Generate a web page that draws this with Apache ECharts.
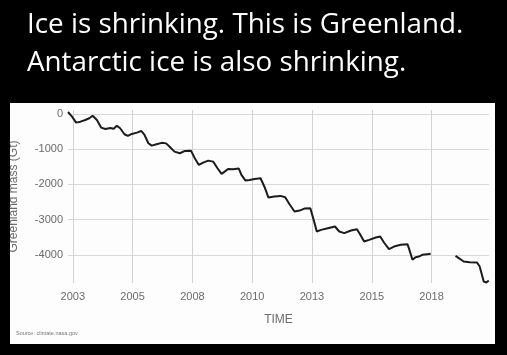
<!DOCTYPE html>
<html>
<head>
<meta charset="utf-8">
<script src="https://cdn.jsdelivr.net/npm/echarts@6/dist/echarts.min.js"></script>
<style>
html,body{margin:0;padding:0;background:#000;}
#panel{position:absolute;left:10px;top:103px;width:485px;height:241px;background:#fdfdfd;}
#chart{position:absolute;left:0;top:0;width:507px;height:355px;}
</style>
</head>
<body>
<div id="panel"></div>
<div id="chart"></div>
<script>
// ---- data ----
const titleLines = ["Ice is shrinking. This is Greenland.", "Antarctic ice is also shrinking."];
const sourceText = "Source: climate.nasa.gov";
const yAxisName = "Greenland mass (Gt)";
const xAxisName = "TIME";
const xTicks = [2003, 2005.5, 2008, 2010.5, 2013, 2015.5, 2018];
const yTicks = [0, -1000, -2000, -3000, -4000];
const years = [
  2002.80, 2002.97, 2003.14, 2003.32, 2003.52, 2003.69, 2003.83, 2004.01, 2004.19, 2004.36,
  2004.57, 2004.71, 2004.84, 2004.98, 2005.16, 2005.30, 2005.47, 2005.68, 2005.86, 2006.00,
  2006.16, 2006.30, 2006.50, 2006.72, 2006.90, 2007.05, 2007.25, 2007.48, 2007.69, 2007.94,
  2008.10, 2008.27, 2008.45, 2008.66, 2008.87, 2009.05, 2009.22, 2009.35, 2009.49, 2009.70,
  2009.94, 2010.05, 2010.22, 2010.39, 2010.60, 2010.85, 2011.02, 2011.18, 2011.43, 2011.68,
  2011.88, 2012.06, 2012.27, 2012.48, 2012.68, 2012.93, 2013.07, 2013.20, 2013.38, 2013.66,
  2013.96, 2014.14, 2014.35, 2014.63, 2014.88, 2015.02, 2015.18, 2015.39, 2015.67, 2015.85,
  2016.01, 2016.22, 2016.43, 2016.71, 2016.99, 2017.05, 2017.20, 2017.33, 2017.47, 2017.61,
  2017.82, 2017.96, 2018.50,
  2019.00, 2019.18, 2019.34, 2019.59, 2019.90, 2020.01, 2020.18, 2020.29, 2020.39
];
const mass = [
  57, -76, -246, -218, -170, -122, -48, -170, -388, -425,
  -397, -417, -332, -406, -576, -624, -567, -530, -482, -596,
  -831, -899, -860, -820, -835, -930, -1069, -1115, -1050, -1041,
  -1257, -1447, -1381, -1325, -1353, -1541, -1702, -1637, -1560, -1569,
  -1551, -1730, -1892, -1872, -1844, -1825, -2080, -2374, -2346, -2326,
  -2364, -2562, -2771, -2743, -2686, -2677, -3007, -3338, -3291, -3243,
  -3196, -3338, -3385, -3310, -3272, -3433, -3622, -3574, -3508, -3480,
  -3650, -3839, -3764, -3716, -3697, -3810, -4142, -4066, -4048, -4000,
  -3981, -3972, null,
  -4028, -4113, -4190, -4208, -4218, -4331, -4757, -4785, -4729
];

// ---- chart ----
function fitSize(text, family, targetW) {
  const c = document.createElement('canvas').getContext('2d');
  c.font = '100px ' + family;
  return 100 * targetW / c.measureText(text).width;
}
const titleFamily = '"Open Sans"';
const titleSize = fitSize(titleLines[0], titleFamily, 436);

const chart = echarts.init(document.getElementById('chart'), null, {renderer: 'canvas'});
const gray = '#6b6b6b';
chart.setOption({
  backgroundColor: 'transparent',
  animation: false,
  grid: {left: 66, right: 18, top: 110, bottom: 72},
  xAxis: {
    type: 'value', min: 2002.8, max: 2020.4,
    name: xAxisName, nameLocation: 'middle', nameGap: 31,
    nameTextStyle: {color: gray, fontSize: 12, fontFamily: 'Liberation Sans'},
    axisLine: {show: false},
    axisTick: {show: false, customValues: xTicks},
    axisLabel: {customValues: xTicks, color: gray, fontSize: 11, margin: 8, fontFamily: 'Liberation Sans',
      formatter: v => String(Math.floor(v))},
    splitLine: {show: true, lineStyle: {color: '#d2d2d2', width: 1}}
  },
  yAxis: {
    type: 'value', min: -4800, max: 113,
    name: yAxisName, nameLocation: 'middle', nameGap: 48, nameRotate: 90,
    nameTextStyle: {color: gray, fontSize: 12, fontFamily: 'Liberation Sans'},
    axisLine: {show: false},
    axisTick: {show: false, customValues: yTicks},
    axisLabel: {customValues: yTicks, color: gray, fontSize: 11, margin: 5, fontFamily: 'Liberation Sans',
      formatter: v => String(v)},
    splitLine: {show: true, lineStyle: {color: '#d8d8d8', width: 1}}
  },
  series: [{
    type: 'line',
    data: years.map((y, i) => [y, mass[i]]),
    showSymbol: false, symbol: 'none',
    connectNulls: false,
    lineStyle: {color: '#1c1c1c', width: 2},
    z: 5
  }],
  graphic: [
    {type: 'text', z: 100, style: {text: titleLines[0], x: 27, y: 25, fill: '#fff',
      font: titleSize.toFixed(1) + 'px ' + titleFamily, textVerticalAlign: 'middle', verticalAlign: 'middle'}},
    {type: 'text', z: 100, style: {text: titleLines[1], x: 27, y: 63.5, fill: '#fff',
      font: titleSize.toFixed(1) + 'px ' + titleFamily, textVerticalAlign: 'middle', verticalAlign: 'middle'}},
    {type: 'text', z: 100, style: {text: sourceText, x: 16, y: 333, fill: '#777',
      font: '5.5px Liberation Sans', textVerticalAlign: 'middle', verticalAlign: 'middle'}},
    {type: 'rect', z: 100, shape: {x: 0, y: 100, width: 10, height: 255}, style: {fill: '#000'}}
  ]
});
</script>
</body>
</html>
